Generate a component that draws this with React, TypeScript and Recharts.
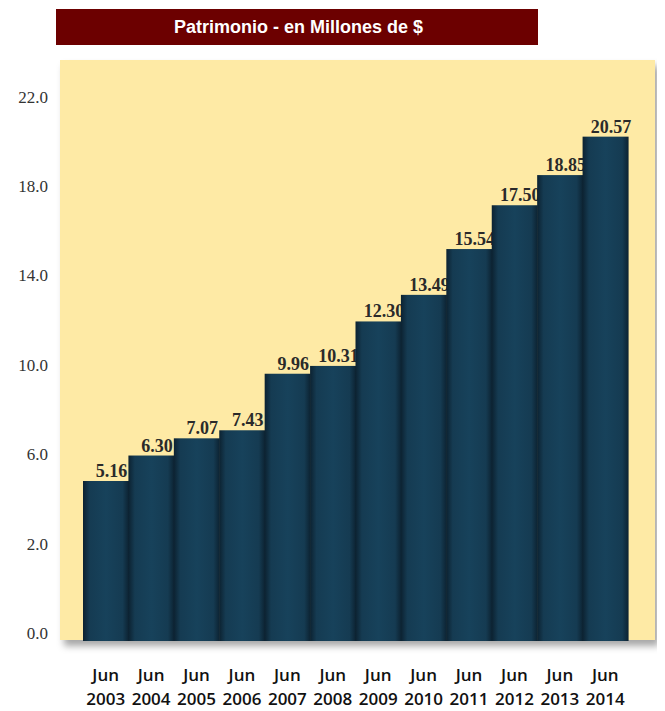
import { Bar, BarChart, XAxis, YAxis } from 'recharts';

const years = ['2003', '2004', '2005', '2006', '2007', '2008', '2009', '2010', '2011', '2012', '2013', '2014'];
const period = 'Jun';
const patrimonio = [5.16, 6.3, 7.07, 7.43, 9.96, 10.31, 12.3, 13.49, 15.54, 17.5, 18.85, 20.57];

// the source axis is not linear: its "0.0" label sits at the baseline, one step below 2.0
const yTicks = [-2, 2, 6, 10, 14, 18, 22];
const yTickLabels = ['0.0', '2.0', '6.0', '10.0', '14.0', '18.0', '22.0'];

const data = years.map((year, i) => ({ year, value: patrimonio[i] }));

const YearTick = ({ x, y, payload }: any) => (
  <g>
    <text x={x} y={y + 40} textAnchor="middle" fontFamily="'Open Sans', sans-serif" fontWeight={600} fontSize={17} fill="#111">
      {period}
    </text>
    <text x={x} y={y + 64} textAnchor="middle" fontFamily="'Open Sans', sans-serif" fontWeight={600} fontSize={17} fill="#111">
      {payload.value}
    </text>
  </g>
);

const ValueTick = ({ y, payload }: any) => {
  const idx = yTicks.indexOf(payload.value);
  return (
    <text x={48} y={y - 2} textAnchor="end" fontFamily="'Liberation Serif', serif" fontSize={17} fill="#333">
      {yTickLabels[idx]}
    </text>
  );
};

const renderBar = (props: any) => {
  const { x, y, width, height, background, payload } = props;
  const bottom = background ? background.y + background.height + 2 : y + height;
  return (
    <g>
      <rect x={x} y={y} width={width + 1} height={bottom - y} fill="url(#barGrad)" />
      <text
        x={x + width / 2 + 6}
        y={y - 4}
        textAnchor="middle"
        fontFamily="'Liberation Serif', serif"
        fontWeight="bold"
        fontSize={18}
        fill="#2a2a2a"
      >
        {payload.value.toFixed(2)}
      </text>
    </g>
  );
};

export default function App() {
  return (
    <div style={{ position: 'relative', width: 665, height: 711, marginLeft: -8, marginTop: -8, background: '#fff', overflow: 'hidden' }}>
      <div
        style={{
          position: 'absolute',
          left: 0,
          top: 135,
          width: 4,
          height: 525,
          background: 'linear-gradient(to right, #c8c8c8, #fff)',
        }}
      />
      <div
        style={{
          position: 'absolute',
          left: 56,
          top: 9,
          width: 482,
          height: 36,
          background: '#6c0000',
          color: '#fff',
          fontFamily: "'Liberation Sans', Arial, sans-serif",
          fontWeight: 'bold',
          fontSize: 18,
          lineHeight: '36px',
          boxSizing: 'border-box',
          paddingLeft: 118,
          whiteSpace: 'nowrap',
        }}
      >
        Patrimonio - en Millones de $
      </div>
      <div
        style={{
          position: 'absolute',
          left: 60,
          top: 60,
          width: 595,
          height: 580,
          background: '#feeaa5',
          boxShadow: '4px 6px 7px rgba(0,0,0,0.35)',
        }}
      />
      <div style={{ position: 'absolute', left: 0, top: 0 }}>
        <BarChart
          width={665}
          height={711}
          data={data}
          margin={{ top: 60, right: 37, bottom: 0, left: 0 }}
          barCategoryGap={0}
          baseValue="dataMin"
        >
          <defs>
            <linearGradient id="barGrad" x1="0" y1="0" x2="1" y2="0">
              <stop offset="0%" stopColor="#0c2231" />
              <stop offset="14%" stopColor="#153b52" />
              <stop offset="50%" stopColor="#17425b" />
              <stop offset="86%" stopColor="#153b52" />
              <stop offset="100%" stopColor="#0c2231" />
            </linearGradient>
          </defs>
          <XAxis
            dataKey="year"
            axisLine={false}
            tickLine={false}
            tickSize={0}
            tickMargin={0}
            height={70}
            interval={0}
            tick={<YearTick />}
          />
          <YAxis
            domain={[-2, 24]}
            ticks={yTicks}
            allowDataOverflow
            axisLine={false}
            tickLine={false}
            tickSize={0}
            width={83}
            tick={<ValueTick />}
          />
          <Bar dataKey="value" isAnimationActive={false} shape={renderBar} />
        </BarChart>
      </div>
    </div>
  );
}
